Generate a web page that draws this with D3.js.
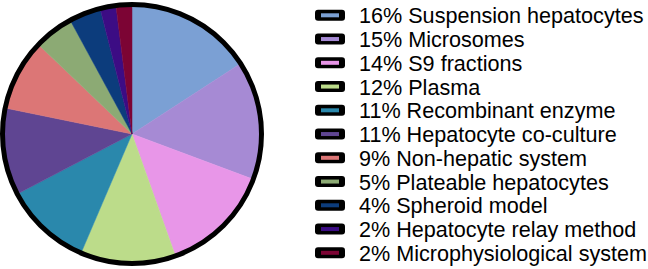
<!DOCTYPE html>
<html><head><meta charset="utf-8">
<script src="https://cdn.jsdelivr.net/npm/d3@7"></script>
<style>html,body{margin:0;padding:0;background:#fff;}svg{display:block;}</style>
</head><body>
<svg id="c" width="648" height="269"></svg>
<script>
const categories = ["Suspension hepatocytes","Microsomes","S9 fractions","Plasma","Recombinant enzyme","Hepatocyte co-culture","Non-hepatic system","Plateable hepatocytes","Spheroid model","Hepatocyte relay method","Microphysiological system"];
const values = [16,15,14,12,11,11,9,5,4,2,2];
const colors = ["#7ba0d4","#a68ad4","#e896e8","#bcdc8a","#2a88ac","#5f4592","#dc7676","#8caa74","#0c3c7c","#3c0c84","#7c0434"];

const svg = d3.select("#c");
const cx = 132, cy = 134, r = 129.5;
const pie = d3.pie().sort(null).value(d => d)(values);
const arc = d3.arc().innerRadius(0).outerRadius(r);
const g = svg.append("g").attr("transform", `translate(${cx},${cy})`);
g.selectAll("path").data(pie).join("path")
  .attr("d", arc).attr("fill", (d,i) => colors[i]).attr("stroke", (d,i)=>colors[i]).attr("stroke-width",0.5);
g.append("circle").attr("r", r).attr("fill","none").attr("stroke","#000").attr("stroke-width",5);

const y = d3.scaleLinear().domain([0, categories.length-1]).range([23.3, 260.8]);
const lg = svg.append("g");
categories.forEach((c,i) => {
  const by = y(i);
  lg.append("rect").attr("x",315).attr("y",by-13.5).attr("width",30).attr("height",11)
    .attr("rx",3).attr("fill","#000");
  lg.append("rect").attr("x",321).attr("y",by-10).attr("width",18).attr("height",4)
    .attr("fill",colors[i]);
  lg.append("text").attr("x",359).attr("y",by)
    .attr("font-family","'Liberation Sans', Arial, sans-serif").attr("font-size",21.6)
    .attr("fill","#000").text(values[i] + "% " + c);
});
</script>
</body></html>
